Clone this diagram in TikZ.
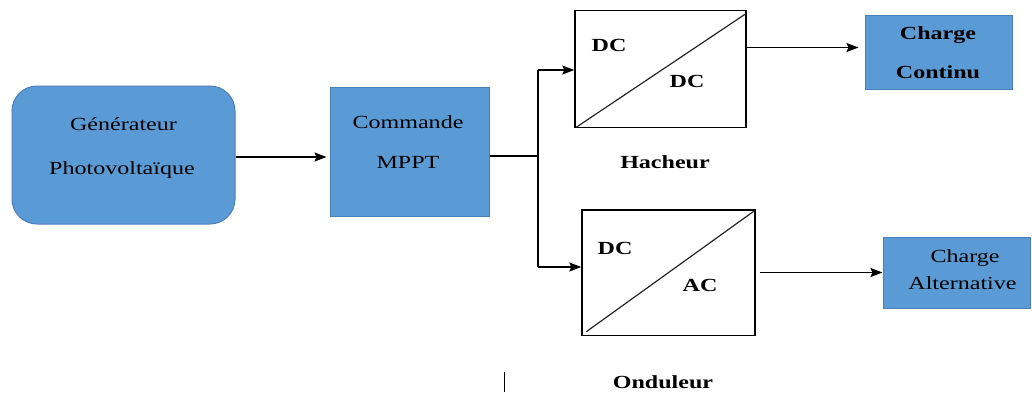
\documentclass[tikz,border=0pt]{standalone}
\usepackage{fontspec}
\setmainfont{Liberation Serif}[FakeStretch=1.3]
\usetikzlibrary{arrows.meta,calc}
\definecolor{boxblue}{HTML}{5B9BD5}
\definecolor{boxedge}{HTML}{4A7EBB}
\tikzset{
  bluebox/.style={draw=boxedge, line width=1pt, fill=boxblue, inner sep=0pt},
  convbox/.style={draw=black, line width=1.4pt, fill=white, inner sep=0pt},
  txt/.style={anchor=base, inner sep=0pt, font=\fontsize{18.5}{22}\selectfont},
  btxt/.style={txt, font=\fontsize{18.5}{22}\selectfont\bfseries},
  link/.style={draw=black, line width=1.2pt},
  arr/.style={link, -{Stealth[length=12pt,width=9pt,inset=2pt]}},
  diag/.style={draw=black!85, line width=1.2pt}
}
\begin{document}
\begin{tikzpicture}[x=1pt, y=-1pt]
\useasboundingbox (0,0) rectangle (1032,392);

% blocks
\node[bluebox, rounded corners=25pt, minimum width=223pt, minimum height=138pt] (gen) at (123.5,155) {};
\node[bluebox, minimum width=159pt, minimum height=129pt] (comm) at (409.5,151.5) {};
\node[convbox, minimum width=171pt, minimum height=117pt] (hach) at (660.5,69) {};
\node[convbox, minimum width=173pt, minimum height=125.5pt] (ond) at (668.5,272.75) {};
\node[bluebox, minimum width=147pt, minimum height=74pt] (cc) at (938.5,52.5) {};
\node[bluebox, minimum width=147pt, minimum height=71pt] (ca) at (956.5,272.5) {};

% converter diagonals
\draw[diag] ($(hach.south west)+(2,-1)$) -- ($(hach.north east)+(-1,4)$);
\draw[diag] ($(ond.south west)+(5,-4.5)$) -- ($(ond.north east)+(-2,2)$);

% block texts
\node[txt] (genA) at (123.5,130) {Générateur};
\node[txt] (genB) at (122,174) {Photovoltaïque};
\node[txt] (commA) at (408,128) {Commande};
\node[txt] (commB) at (408,168) {MPPT};
\node[btxt] (hdc1) at (609,51) {DC};
\node[btxt] (hdc2) at (687,87) {DC};
\node[btxt] (odc) at (615,254) {DC};
\node[btxt] (oac) at (700,291) {AC};
\node[btxt] (ccA) at (938,39) {Charge};
\node[btxt] (ccB) at (938,78) {Continu};
\node[txt] (caA) at (965,262) {Charge};
\node[txt] (caB) at (962.5,289) {Alternative};
\node[btxt] (hlab) at (665,168) {Hacheur};
\node[btxt] (olab) at (663,388) {Onduleur};

% connectors
\coordinate (split) at (538,156);
\coordinate (up) at (538,70);
\coordinate (dn) at (538,267);
\path ([yshift=-2pt]gen.east) coordinate (genout);
\draw[arr, shorten >=3pt] (genout) -- (genout -| comm.west);
\draw[link] (split -| comm.east) -- (split);
\draw[link] (up) -- (dn);
\draw[arr] (up) -- (up -| hach.west);
\draw[arr] (dn) -- (dn -| ond.west);
\path ([yshift=5pt]cc.west) coordinate (ccin);
\draw[arr, shorten >=6pt] (ccin -| hach.east) -- (ccin);
\draw[arr, shorten <=4pt] (ca.west -| ond.east) -- (ca.west);

% short mark near the bottom edge
\coordinate (markA) at (504.5,372);
\coordinate (markB) at (504.5,392);
\draw[link] (markA) -- (markB);
\end{tikzpicture}
\end{document}
